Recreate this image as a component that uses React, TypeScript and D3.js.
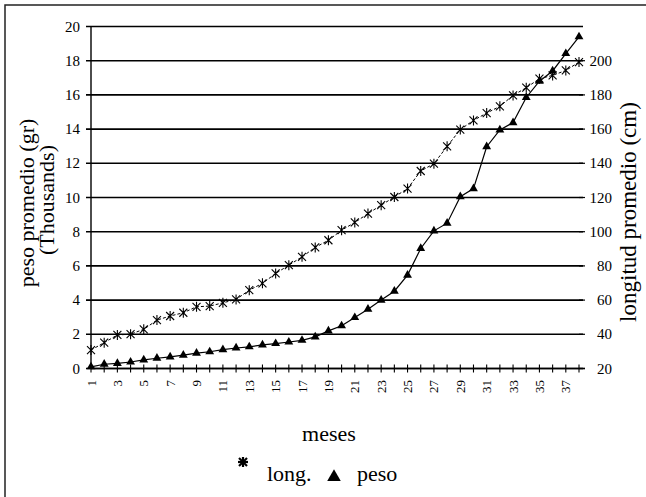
import React from 'react';
import * as d3 from 'd3';

// meses 1..38
const months = d3.range(1, 39);
// peso promedio (gr, thousands) - left axis
const peso = [
  0.1, 0.25, 0.3, 0.38, 0.5, 0.6, 0.68, 0.78, 0.9, 0.98,
  1.1, 1.2, 1.27, 1.38, 1.46, 1.55, 1.65, 1.85, 2.2, 2.5,
  2.98, 3.47, 4.0, 4.52, 5.46, 7.02, 8.05, 8.5, 10.05, 10.52,
  12.97, 13.95, 14.38, 15.85, 16.8, 17.4, 18.42, 19.4,
];
// longitud promedio (cm) - right axis
const longitud = [
  30.8, 35.1, 39.6, 40.1, 42.9, 48.3, 50.7, 52.6, 56.1, 56.5,
  58.4, 60.4, 65.8, 69.8, 75.6, 80.4, 85.3, 90.8, 95.0, 100.9,
  105.4, 110.6, 115.5, 120.3, 125.2, 135.5, 139.8, 149.9, 159.7, 165.1,
  169.4, 173.3, 179.7, 184.2, 189.5, 191.4, 194.3, 199.2,
];
const leftTicks = d3.range(0, 21, 2);
const rightTicks = d3.range(20, 201, 20);
const xLabels = months.filter((m) => m % 2 === 1);

const F = 'Liberation Serif';

const starPath = (r: number) =>
  `M${-r},${-r}L${r},${r}M${-r},${r}L${r},${-r}M0,${-r - 1}L0,${r + 1}`;

function T(props: any) {
  const { children, ...rest } = props;
  return (
    <text fontFamily={F} style={{ fontFamily: `'${F}'` }} {...rest}>
      {children}
    </text>
  );
}

export default function App() {
  const margin = { left: 91, right: 579, top: 26.5, bottom: 368.5 };

  const x = d3.scalePoint<number>().domain(months).range([margin.left, margin.right]);
  const yL = d3.scaleLinear().domain([0, 20]).range([margin.bottom, margin.top]);
  const yR = d3.scaleLinear().domain([20, 220]).range([margin.bottom, margin.top]);

  const pesoLine = d3
    .line<number>()
    .x((_, i) => x(months[i])!)
    .y((d) => yL(d))(peso);
  const longLine = d3
    .line<number>()
    .x((_, i) => x(months[i])!)
    .y((d) => yR(d))(longitud);

  const tri = d3.symbol(d3.symbolTriangle, 34)()!;
  const triLegend = d3.symbol(d3.symbolTriangle, 80)()!;

  return (
    <svg width={646} height={497} style={{ position: 'absolute', left: 0, top: 0, background: '#fff' }}>
      {/* frame */}
      <rect x={5} y={5} width={700} height={600} fill="none" stroke="#222" strokeWidth={1.5} />

      {/* gridlines + left ticks */}
      {leftTicks.map((t) => (
        <g key={'g' + t}>
          <line x1={margin.left - 5} x2={margin.right + 4} y1={yL(t)} y2={yL(t)} stroke="#000" strokeWidth={1.6} />
          <T x={80} y={yL(t) + 5} textAnchor="end" fontSize={15}>
            {t}
          </T>
        </g>
      ))}

      {/* right ticks */}
      {rightTicks.map((t) => (
        <g key={'r' + t}>
          <line x1={margin.right} x2={margin.right + 6} y1={yR(t)} y2={yR(t)} stroke="#000" strokeWidth={1.2} />
          <T x={612} y={yR(t) + 5} textAnchor="end" fontSize={15}>
            {t}
          </T>
        </g>
      ))}

      {/* left axis line */}
      <line x1={margin.left} x2={margin.left} y1={margin.top} y2={margin.bottom} stroke="#000" strokeWidth={1.4} />

      {/* x axis */}
      <line x1={margin.left} x2={margin.right + 6} y1={margin.bottom} y2={margin.bottom} stroke="#000" strokeWidth={1.6} />
      {months.map((m) => (
        <line
          key={'xt' + m}
          x1={x(m)}
          x2={x(m)}
          y1={margin.bottom - 4}
          y2={margin.bottom + 4}
          stroke="#000"
          strokeWidth={1.1}
        />
      ))}
      {xLabels.map((m) => (
        <T key={'xl' + m} transform={`translate(${x(m)! + 4.5},380) rotate(-90)`} textAnchor="end" fontSize={13}>
          {m}
        </T>
      ))}

      {/* series: longitud */}
      <path d={longLine!} fill="none" stroke="#000" strokeWidth={1} strokeDasharray="3,2" />
      {longitud.map((v, i) => (
        <path
          key={'s' + i}
          d={starPath(4)}
          transform={`translate(${x(months[i])},${yR(v)})`}
          stroke="#000"
          strokeWidth={1.1}
          fill="none"
        />
      ))}

      {/* series: peso */}
      <path d={pesoLine!} fill="none" stroke="#000" strokeWidth={1.2} />
      {peso.map((v, i) => (
        <path key={'p' + i} d={tri} transform={`translate(${x(months[i])},${yL(v)})`} fill="#000" />
      ))}

      {/* axis titles */}
      <T transform="translate(34,203) rotate(-90)" textAnchor="middle" fontSize={22}>
        peso promedio (gr)
      </T>
      <T transform="translate(54,200) rotate(-90)" textAnchor="middle" fontSize={22}>
        (Thousands)
      </T>
      <T transform="translate(636,212) rotate(-90)" textAnchor="middle" fontSize={23}>
        longitud promedio (cm)
      </T>
      <T x={329} y={441} textAnchor="middle" fontSize={22}>
        meses
      </T>

      {/* legend */}
      <g transform="translate(243,462)" stroke="#000" strokeWidth={2.2}>
        <line x1={-5} x2={5} y1={0} y2={0} />
        <line x1={0} x2={0} y1={-5} y2={5} />
        <line x1={-4} x2={4} y1={-4} y2={4} />
        <line x1={-4} x2={4} y1={4} y2={-4} />
      </g>
      <T x={267} y={481} fontSize={22}>
        long.
      </T>
      <path d={triLegend} transform="translate(334,477)" fill="#000" />
      <T x={357} y={481} fontSize={22}>
        peso
      </T>
    </svg>
  );
}
